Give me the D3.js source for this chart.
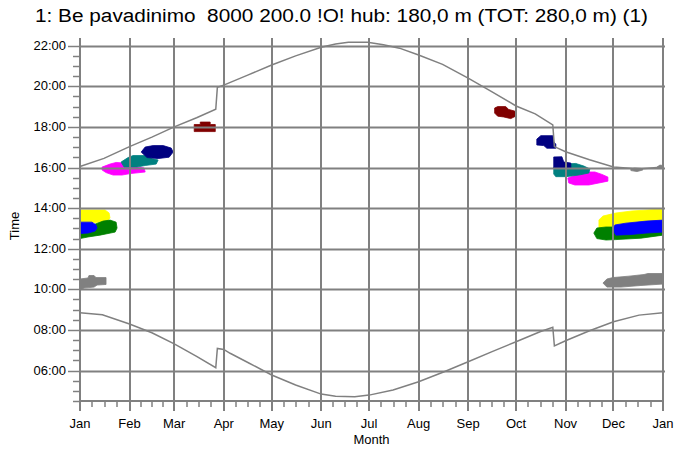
<!DOCTYPE html>
<html><head><meta charset="utf-8">
<script src="https://cdn.jsdelivr.net/npm/d3@7"></script>
<style>body{margin:0;background:#fff;overflow:hidden}svg{display:block}</style>
</head><body>
<svg id="c" width="675" height="453"></svg>
<script>
// ---------------- data ----------------
const titleText = "1: Be pavadinimo  8000 200.0 !O! hub: 180,0 m (TOT: 280,0 m) (1)";
const monthLabels = ["Jan","Feb","Mar","Apr","May","Jun","Jul","Aug","Sep","Oct","Nov","Dec","Jan"];
const monthStartDays = [0,31,59,90,120,151,181,212,243,273,304,334,365];
const hourTicks = [6,8,10,12,14,16,18,20,22];

// sunset / sunrise (local time, hours): [dayOfYear, hour]
const sunsetTimes = [[0,16.05],[15,16.45],[31,17.03],[45,17.5],[59,18.0],[73,18.45],[85,18.87],[86,19.95],[90,20.06],[105,20.55],[120,21.05],[135,21.5],[151,21.92],[160,22.08],[168,22.17],[180,22.17],[190,22.05],[200,21.88],[212,21.54],[227,21.08],[243,20.4],[258,19.73],[273,19.03],[285,18.64],[296,18.1],[297,17.03],[304,16.78],[319,16.38],[334,16.03],[350,15.93],[365,16.02]];
const sunriseTimes = [[0,8.85],[14,8.75],[31,8.29],[45,7.86],[59,7.31],[73,6.7],[85,6.14],[86,7.09],[90,7.04],[94,6.85],[106,6.36],[120,5.78],[135,5.29],[151,4.84],[160,4.73],[172,4.71],[181,4.79],[196,5.04],[212,5.45],[228,5.94],[243,6.43],[258,6.93],[273,7.42],[288,7.91],[296,8.13],[297,7.21],[304,7.47],[319,7.96],[334,8.4],[350,8.73],[365,8.85]];

// shadow-flicker areas per receptor: [dayOfYear, hour] outlines
const receptorNames = ["Gray","Yellow","Green","Blue","Magenta","Teal","Navy","Maroon"];
const grayAreas = [
  [[0,10.51],[5.0,10.56],[5.6,10.68],[8.8,10.68],[10.0,10.58],[16.3,10.58],[16.3,10.24],[10.7,10.21],[8.8,10.11],[2.5,10.06],[0.6,9.97],[0,9.97]],
  [[327.4,10.31],[329.9,10.51],[333.6,10.58],[343.7,10.65],[353.1,10.73],[355.6,10.78],[365,10.78],[365,10.26],[351.2,10.19],[338.7,10.11],[329.9,10.11]],
  [[344.9,15.93],[347.4,15.98],[351.8,15.95],[352.4,15.88],[348.7,15.8],[344.9,15.85]],
  [[361.2,16.02],[363.1,16.12],[365,16.1],[365,15.95],[361.2,15.95]]
];
const yellowAreas = [
  [[0,13.91],[15.7,13.91],[18.2,13.76],[18.8,13.51],[16.3,13.32],[0,13.27]],
  [[324.9,13.42],[327.4,13.61],[335.5,13.76],[345.6,13.86],[365,13.96],[365,13.31],[324.9,13.02]]
];
const greenAreas = [
  [[0,13.12],[9.4,13.21],[14.4,13.36],[18.8,13.41],[22.6,13.31],[23.2,13.02],[22.0,12.82],[12.5,12.67],[5.0,12.58],[0,12.5]],
  [[321.7,12.77],[323.6,13.02],[329.3,13.07],[334.2,13.07],[365,13.02],[365,12.67],[351.2,12.52],[335.5,12.45],[329.3,12.43],[323.6,12.5]]
];
const blueAreas = [
  [[0,13.31],[7.5,13.31],[10.0,13.17],[10.7,13.02],[9.4,12.87],[5.0,12.77],[0,12.75]],
  [[333.6,12.92],[334.9,13.17],[341.8,13.26],[354.4,13.36],[365,13.41],[365,12.82],[354.4,12.77],[345.0,12.7],[335.5,12.67]]
];
const magentaAreas = [
  [[13.8,16.02],[18.8,16.17],[22.6,16.25],[27.6,16.22],[31.4,16.07],[40.1,15.98],[40.8,15.78],[31.4,15.7],[26.3,15.63],[20.7,15.63],[16.3,15.75],[13.8,15.88]],
  [[305.4,15.48],[310.4,15.63],[314.8,15.78],[322.4,15.78],[326.8,15.66],[330.5,15.53],[330.5,15.33],[324.9,15.24],[318.6,15.14],[309.8,15.14],[306.0,15.24]]
];
const tealAreas = [
  [[25.7,16.27],[30.1,16.49],[33.2,16.59],[42.6,16.59],[45.2,16.44],[48.9,16.37],[47.7,16.17],[40.8,16.1],[35.7,16.02],[27.6,16.02]],
  [[296.6,16.02],[302.3,16.17],[310.4,16.2],[315.5,16.07],[319.2,15.93],[318.6,15.73],[312.3,15.63],[304.2,15.55],[297.9,15.55],[296.6,15.68]]
];
const navyAreas = [
  [[38.3,16.76],[40.8,17.01],[45.8,17.08],[52.1,17.08],[57.1,16.96],[58.3,16.76],[55.8,16.51],[48.9,16.44],[42.0,16.49]],
  [[286.0,17.4],[288.5,17.57],[296.0,17.57],[296.6,17.26],[297.9,17.16],[297.9,16.95],[292.3,16.95],[290.4,17.08],[286.0,17.11]],
  [[296.6,16.52],[301.7,16.53],[302.9,16.27],[307.3,16.22],[307.3,15.97],[296.6,15.97]]
];
const maroonAreas = [
  [[71.5,18.12],[75.3,18.12],[75.3,18.24],[81.5,18.24],[81.5,18.12],[84.7,18.12],[84.7,17.77],[71.5,17.77]],
  [[259.6,18.93],[261.5,19.0],[266.5,19.0],[268.4,18.86],[272.2,18.78],[272.8,18.53],[269.7,18.41],[265.3,18.49],[261.5,18.53],[259.6,18.68]]
];

// ---------------- drawing ----------------
const colorOf = {Gray:"#808080",Yellow:"#ffff00",Green:"#008000",Blue:"#0000ff",Magenta:"#ff00ff",Teal:"#008080",Navy:"#000080",Maroon:"#800000"};
const areasOf = {Gray:grayAreas,Yellow:yellowAreas,Green:greenAreas,Blue:blueAreas,Magenta:magentaAreas,Teal:tealAreas,Navy:navyAreas,Maroon:maroonAreas};

const svg = d3.select("#c");
const FONT = "'Liberation Sans', Arial, sans-serif";
const L = 80, R = 663, T = 38, B = 401;
const x = d3.scaleLinear().domain([0,365]).range([L,R]);
const y = d3.scaleLinear().domain([4.5,22.38]).range([B,T]);
const gridCol = "#808080";

// flicker areas (under grid)
const gA = svg.append("g");
receptorNames.forEach(name => {
  gA.selectAll(null).data(areasOf[name]).enter().append("path")
    .attr("d", pts => d3.line().x(d=>x(d[0])).y(d=>y(d[1])).curve(d3.curveLinearClosed)(pts))
    .attr("fill", colorOf[name]).attr("stroke", colorOf[name]).attr("stroke-width",0.8);
});

// grid
const gG = svg.append("g");
gG.selectAll(null).data(hourTicks).enter().append("line")
  .attr("x1",L).attr("x2",R+2).attr("y1",d=>Math.round(y(d))+0.5).attr("y2",d=>Math.round(y(d))+0.5)
  .attr("stroke",gridCol).attr("stroke-width",2);
gG.selectAll(null).data(monthStartDays).enter().append("line")
  .attr("y1",T).attr("y2",B).attr("x1",d=>Math.round(x(d))).attr("x2",d=>Math.round(x(d)))
  .attr("stroke",gridCol).attr("stroke-width",2);
gG.append("line").attr("x1",L).attr("x2",R+1).attr("y1",B).attr("y2",B).attr("stroke",gridCol).attr("stroke-width",2);

// curves
const line = d3.line().x(d=>x(d[0])).y(d=>y(d[1]));
[sunsetTimes, sunriseTimes].forEach(s => {
  svg.append("path").attr("d", line(s)).attr("fill","none").attr("stroke","#808080").attr("stroke-width",1.5);
});

// y axis ticks
const yMinor = d3.range(4.5, 22.01, 0.5);
svg.append("g").selectAll(null).data(yMinor).enter().append("line")
  .attr("x1", d => (Math.abs(d%2)<1e-6) ? 68 : 73).attr("x2",L)
  .attr("y1",d=>Math.round(y(d))+0.5).attr("y2",d=>Math.round(y(d))+0.5)
  .attr("stroke",gridCol).attr("stroke-width",1.5);
svg.append("g").selectAll(null).data(hourTicks).enter().append("text")
  .attr("x",66).attr("y",d=>y(d)+4).attr("text-anchor","end")
  .attr("font-family",FONT).attr("font-size",13).attr("fill","#000")
  .text(d=>d3.format("02d")(d)+":00");

// x axis ticks
const xMinor = [];
for (let i=0;i<12;i++){ for (let k=1;k<4;k++) xMinor.push(monthStartDays[i] + (monthStartDays[i+1]-monthStartDays[i])*k/4); }
svg.append("g").selectAll(null).data(xMinor).enter().append("line")
  .attr("x1",d=>Math.round(x(d))).attr("x2",d=>Math.round(x(d))).attr("y1",B).attr("y2",B+6)
  .attr("stroke",gridCol).attr("stroke-width",1.5);
svg.append("g").selectAll(null).data(monthStartDays).enter().append("line")
  .attr("x1",d=>Math.round(x(d))).attr("x2",d=>Math.round(x(d))).attr("y1",B).attr("y2",B+10)
  .attr("stroke",gridCol).attr("stroke-width",2);
svg.append("g").selectAll(null).data(monthStartDays).enter().append("text")
  .attr("x",d=>x(d)).attr("y",B+27).attr("text-anchor","middle")
  .attr("font-family",FONT).attr("font-size",13).attr("fill","#000")
  .text((d,i)=>monthLabels[i]);

// axis titles
svg.append("text").attr("x",(L+R)/2).attr("y",444).attr("text-anchor","middle")
  .attr("font-family",FONT).attr("font-size",13).text("Month");
svg.append("text").attr("transform","translate(19,226) rotate(-90)").attr("text-anchor","middle")
  .attr("font-family",FONT).attr("font-size",13).text("Time");

// title
svg.append("text").attr("x",35).attr("y",22).attr("text-anchor","start")
  .attr("font-family",FONT).attr("font-size",18).attr("xml:space","preserve")
  .style("white-space","pre")
  .attr("textLength",613).attr("lengthAdjust","spacingAndGlyphs").text(titleText);
</script>
</body></html>
